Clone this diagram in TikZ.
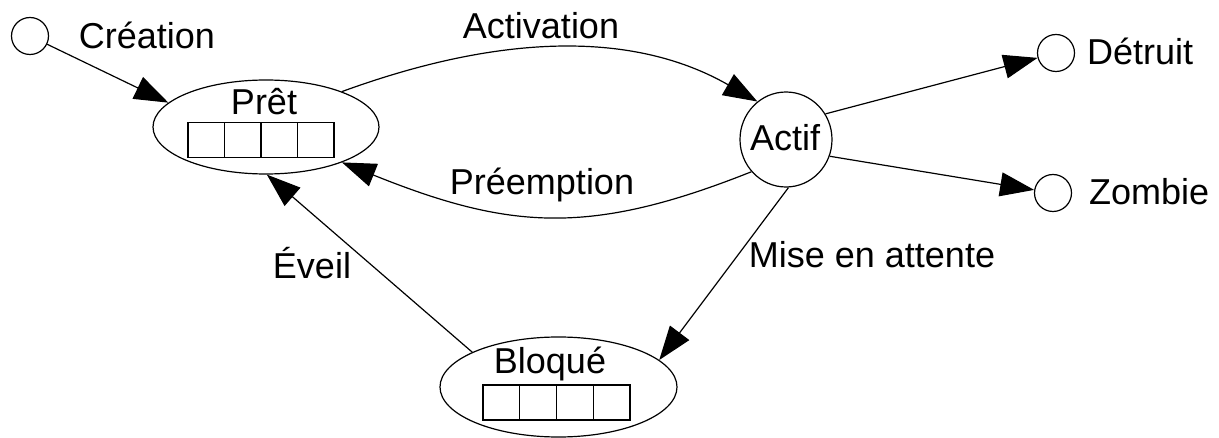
\documentclass[tikz,border=0pt]{standalone}
\usepackage{fontspec}
\setmainfont{Liberation Sans}
\usetikzlibrary{shapes.geometric,arrows.meta}
\begin{document}
\begin{tikzpicture}[x=1pt,y=-1pt,
  every node/.style={font=\fontsize{36}{40}\selectfont},
  state/.style={draw,ellipse,line width=1.2pt,inner sep=0pt},
  endpoint/.style={draw,circle,line width=1.2pt,inner sep=0pt,minimum size=37pt},
  cell/.style={draw,rectangle,line width=1.2pt,inner sep=0pt,minimum width=36.5pt,minimum height=34.5pt},
  txt/.style={anchor=base,inner sep=0pt},
  trans/.style={line width=1.2pt,-{Triangle[length=34pt,width=24pt]}}]
\useasboundingbox (0,0) rectangle (1219,438);

% states
\node[state,minimum width=226pt,minimum height=94pt] (pret) at (266,127) {};
\node[state,minimum width=92pt,minimum height=95pt] (actif) at (786,139.5) {};
\node[state,minimum width=237pt,minimum height=100pt] (bloq) at (558.5,387) {};

% initial and final pseudo-states
\node[endpoint] (cre) at (30,36) {};
\node[endpoint] (det) at (1056,53) {};
\node[endpoint] (zom) at (1053,193) {};

% state names
\node[txt] (tpret) at (264,115) {Prêt};
\node[txt] (tactif) at (785,151) {Actif};
\node[txt] (tbloq) at (550,374) {Bloqué};
\node[txt,anchor=base west] (tdet) at (1087,65) {Détruit};
\node[txt,anchor=base west] (tzom) at (1089,205) {Zombie};

% queues
\foreach \i in {0,...,3} {
  \node[cell] (qp\i) at (206.25+36.5*\i,140) {};
  \node[cell,minimum width=36.75pt,minimum height=35pt] (qb\i) at (501.4+36.75*\i,402.5) {};
}

% transitions
\draw[trans] (cre) -- (pret.166);
\draw[trans] (pret.25) .. controls (505,32) and (636,32) .. (actif.127);
\draw[trans] (actif.223) .. controls (590,236) and (510,230) .. (pret.-25);
\draw[trans] (bloq.158) -- (pret.-89);
\draw[trans] (actif.-87) -- (bloq.15);
\draw[trans] (actif.33) -- (det);
\draw[trans] (actif.-21) -- (zom);

% transition labels
\node[txt] (lcre) at (147,49) {Création};
\node[txt] (lact) at (541,39) {Activation};
\node[txt] (lpre) at (542,195) {Préemption};
\node[txt] (lev) at (312,279) {Éveil};
\node[txt] (lmise) at (872,268) {Mise en attente};
\end{tikzpicture}
\end{document}
